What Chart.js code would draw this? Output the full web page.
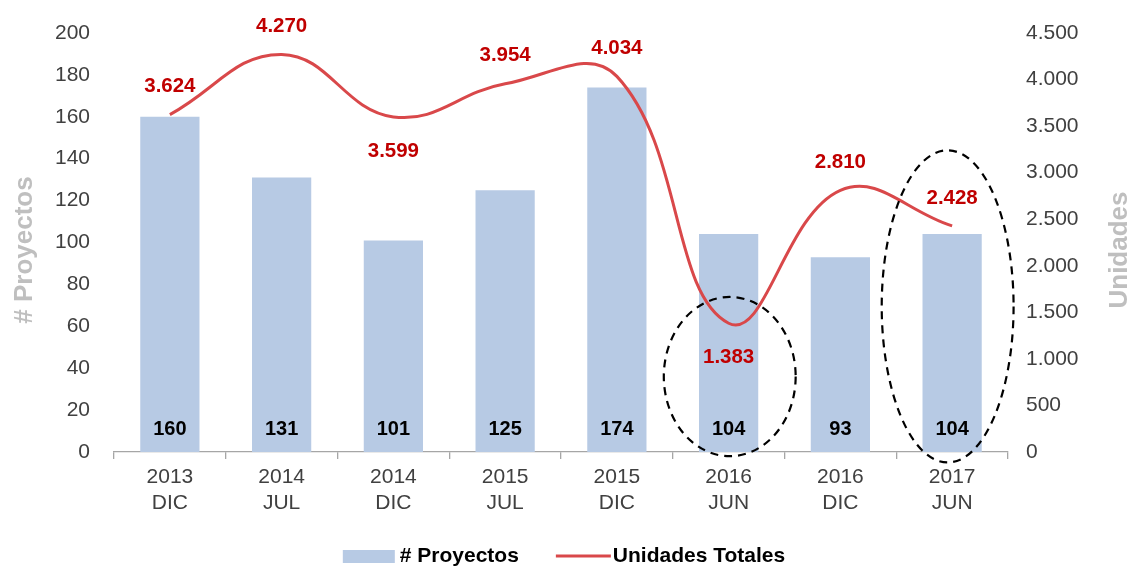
<!DOCTYPE html>
<html>
<head>
<meta charset="utf-8">
<script src="https://cdn.jsdelivr.net/npm/chart.js@4/dist/chart.umd.min.js"></script>
<style>
html,body{margin:0;padding:0;background:#fff;}
#wrap{width:1128px;height:567px;position:relative;}
</style>
</head>
<body>
<div id="wrap"><canvas id="c" width="1128" height="567"></canvas></div>
<script>
// ---- data ----
const categories = [['2013','DIC'],['2014','JUL'],['2014','DIC'],['2015','JUL'],['2015','DIC'],['2016','JUN'],['2016','DIC'],['2017','JUN']];
const proyectos = [160, 131, 101, 125, 174, 104, 93, 104];
const unidades = [3624, 4270, 3599, 3954, 4034, 1383, 2810, 2428];
const leftTicks = [0, 20, 40, 60, 80, 100, 120, 140, 160, 180, 200];
const rightTicks = [0, 500, 1000, 1500, 2000, 2500, 3000, 3500, 4000, 4500];
const seriesNames = ['# Proyectos', 'Unidades Totales'];
const axisTitles = ['# Proyectos', 'Unidades'];

// ---- style ----
const FONT = "'Liberation Sans', Arial, sans-serif";
const BAR_COLOR = '#B7CAE4';
const LINE_COLOR = '#D9484A';
const LABEL_RED = '#C00000';
const TICK_COLOR = '#404040';
const TITLE_COLOR = '#BFBFBF';
const lineLabelPlacement = ['above','above','below','above','above','below','above','above'];
const highlights = [
  {cat: 5, dx: 0.01, halfW: 0.59, top: 74, bottom: -2},
  {cat: 7, dx: -0.04, halfW: 0.59, top: 144, bottom: -5}
];

function fmtThousands(v){
  return String(Math.round(v)).replace(/\B(?=(\d{3})+(?!\d))/g, '.');
}

const overlay = {
  id: 'overlay',
  afterDatasetsDraw(chart){
    const ctx = chart.ctx;
    const x = chart.scales.x, y = chart.scales.y;
    ctx.save();
    // bar value labels
    ctx.font = 'bold 20px ' + FONT;
    ctx.textAlign = 'center';
    ctx.textBaseline = 'middle';
    ctx.fillStyle = '#000';
    const barMeta = chart.getDatasetMeta(0);
    barMeta.data.forEach((el, i) => {
      ctx.fillText(String(proyectos[i]), el.x, y.bottom - 23);
    });
    // line value labels
    ctx.font = 'bold 20.5px ' + FONT;
    ctx.fillStyle = LABEL_RED;
    const lineMeta = chart.getDatasetMeta(1);
    lineMeta.data.forEach((el, i) => {
      const off = lineLabelPlacement[i] === 'above' ? -28 : 34;
      ctx.fillText(fmtThousands(unidades[i]), el.x, el.y + off);
    });
    // dashed ellipses
    const cw = x.getPixelForValue(1) - x.getPixelForValue(0);
    ctx.strokeStyle = '#000';
    ctx.lineWidth = 2.2;
    ctx.setLineDash([8, 6]);
    highlights.forEach(h => {
      const cx = x.getPixelForValue(h.cat) + h.dx * cw;
      const t = y.getPixelForValue(h.top), b = y.getPixelForValue(h.bottom);
      ctx.beginPath();
      ctx.ellipse(cx, (t + b) / 2, h.halfW * cw, (b - t) / 2, 0, 0, Math.PI * 2);
      ctx.stroke();
    });
    ctx.setLineDash([]);
    ctx.restore();
  },
  afterDraw(chart){
    const ctx = chart.ctx;
    ctx.save();
    // axis titles
    ctx.font = 'bold 26px ' + FONT;
    ctx.fillStyle = TITLE_COLOR;
    ctx.textAlign = 'center';
    ctx.textBaseline = 'alphabetic';
    const midY = 250;
    ctx.save();
    ctx.translate(32, midY);
    ctx.rotate(-Math.PI / 2);
    ctx.fillText(axisTitles[0], 0, 0);
    ctx.restore();
    ctx.save();
    ctx.translate(1127, midY);
    ctx.rotate(-Math.PI / 2);
    ctx.fillText(axisTitles[1], 0, 0);
    ctx.restore();
    // legend
    ctx.font = 'bold 21px ' + FONT;
    ctx.fillStyle = '#000';
    ctx.textBaseline = 'middle';
    ctx.textAlign = 'left';
    const ly = 556;
    const boxW = 52, gap1 = 5, sepGap = 37, lineW = 55, gap2 = 2;
    const t0 = ctx.measureText(seriesNames[0]).width;
    const t1 = ctx.measureText(seriesNames[1]).width;
    const total = boxW + gap1 + t0 + sepGap + lineW + gap2 + t1;
    let lx = chart.width / 2 - total / 2;
    ctx.fillStyle = BAR_COLOR;
    ctx.fillRect(lx, ly - 6, boxW, 13);
    lx += boxW + gap1;
    ctx.fillStyle = '#000';
    ctx.fillText(seriesNames[0], lx, ly);
    lx += t0 + sepGap;
    ctx.strokeStyle = LINE_COLOR;
    ctx.lineWidth = 3;
    ctx.beginPath();
    ctx.moveTo(lx, ly);
    ctx.lineTo(lx + lineW, ly);
    ctx.stroke();
    lx += lineW + gap2;
    ctx.fillText(seriesNames[1], lx, ly);
    ctx.restore();
  }
};

new Chart(document.getElementById('c'), {
  type: 'bar',
  data: {
    labels: categories,
    datasets: [
      {
        type: 'bar',
        label: seriesNames[0],
        data: proyectos,
        backgroundColor: BAR_COLOR,
        borderWidth: 0,
        yAxisID: 'y',
        categoryPercentage: 0.53,
        barPercentage: 1.0,
        order: 2
      },
      {
        type: 'line',
        label: seriesNames[1],
        data: unidades,
        borderColor: LINE_COLOR,
        borderWidth: 3,
        pointRadius: 0,
        tension: 0.42,
        fill: false,
        yAxisID: 'y1',
        order: 1
      }
    ]
  },
  options: {
    responsive: false,
    animation: false,
    devicePixelRatio: 1,
    layout: { padding: { top: 33, bottom: 0, left: 0, right: 0 } },
    plugins: {
      legend: { display: false },
      tooltip: { enabled: false }
    },
    scales: {
      x: {
        offset: true,
        grid: { display: true, drawOnChartArea: false, drawTicks: true, tickLength: 7, color: '#A6A6A6', lineWidth: 1.3, offset: true },
        border: { display: true, color: '#A6A6A6', width: 1.3 },
        ticks: { color: TICK_COLOR, font: { family: FONT, size: 21, lineHeight: 1.2 }, padding: 6, maxRotation: 0, autoSkip: false },
        afterFit(s){ s.height = 115; }
      },
      y: {
        position: 'left',
        min: 0, max: 200,
        afterBuildTicks(s){ s.ticks = leftTicks.map(v => ({value: v})); },
        grid: { display: false, drawTicks: true, tickLength: 14 },
        border: { display: false },
        ticks: { color: TICK_COLOR, font: { family: FONT, size: 21 }, padding: 10 },
        afterFit(s){ s.width = 114; }
      },
      y1: {
        position: 'right',
        min: 0, max: 4500,
        afterBuildTicks(s){ s.ticks = rightTicks.map(v => ({value: v})); },
        grid: { display: false, drawTicks: true, tickLength: 9 },
        border: { display: false },
        ticks: { color: TICK_COLOR, font: { family: FONT, size: 21 }, padding: 9, callback: v => fmtThousands(v) },
        afterFit(s){ s.width = 120; }
      }
    }
  },
  plugins: [overlay]
});
</script>
</body>
</html>
